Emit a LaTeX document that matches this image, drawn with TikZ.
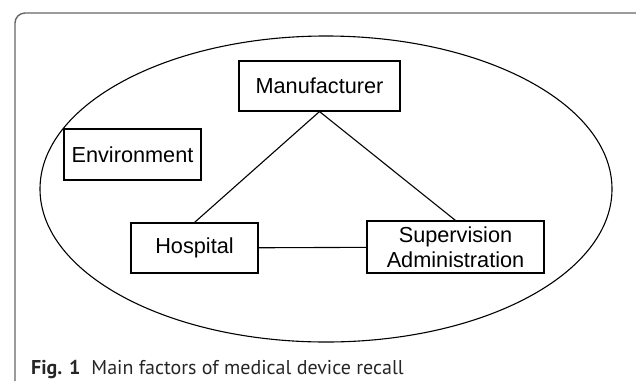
\documentclass[tikz,border=0pt]{standalone}
\usepackage{fontspec}
\setmainfont{Liberation Sans}
\newfontfamily\capfont{PT Sans}
\tikzset{factor/.style={draw,line width=1.1pt,inner sep=0pt,align=center,
                        font=\fontsize{21.7}{25}\selectfont}}
\tikzset{link/.style={line width=1.1pt}}
\tikzset{frame/.style={draw=black!60,line width=1.4pt,rounded corners=10pt}}

\begin{document}
\begin{tikzpicture}[x=1pt,y=-1pt]
    \useasboundingbox (0,0) rectangle (636,381);

    % outer frame
    \draw[frame] (15,381) -- (15,13) -- (636,13);

    % ellipse round the factors
    \draw[line width=1.1pt] (326,189) ellipse [x radius=286, y radius=153];

	% factors
    \node[factor,minimum width=161,minimum height=50] (manu) at (319.5,86) {Manufacturer};
    \node[factor,minimum width=137,minimum height=51] (env) at (132.5,154.5) {Environment};
    \node[factor,minimum width=127,minimum height=50] (hosp) at (194.5,248) {Hospital};
    \node[factor,minimum width=177,minimum height=52] (super) at (455.5,247) {Supervision\\Administration};

    % links
    \draw[link] (manu.south) -- (hosp.north);
    \draw[link] (manu.south) -- (super.north);
    \draw[link] (hosp) -- (super);

	% caption
    \node[anchor=base west,inner sep=0pt,text=black!85,font=\capfont\fontsize{20}{24}\selectfont] (cap) at (31,374)
         {\textbf{Fig. 1}\hspace{0.55em}Main factors of medical device recall};
\end{tikzpicture}
\end{document}
